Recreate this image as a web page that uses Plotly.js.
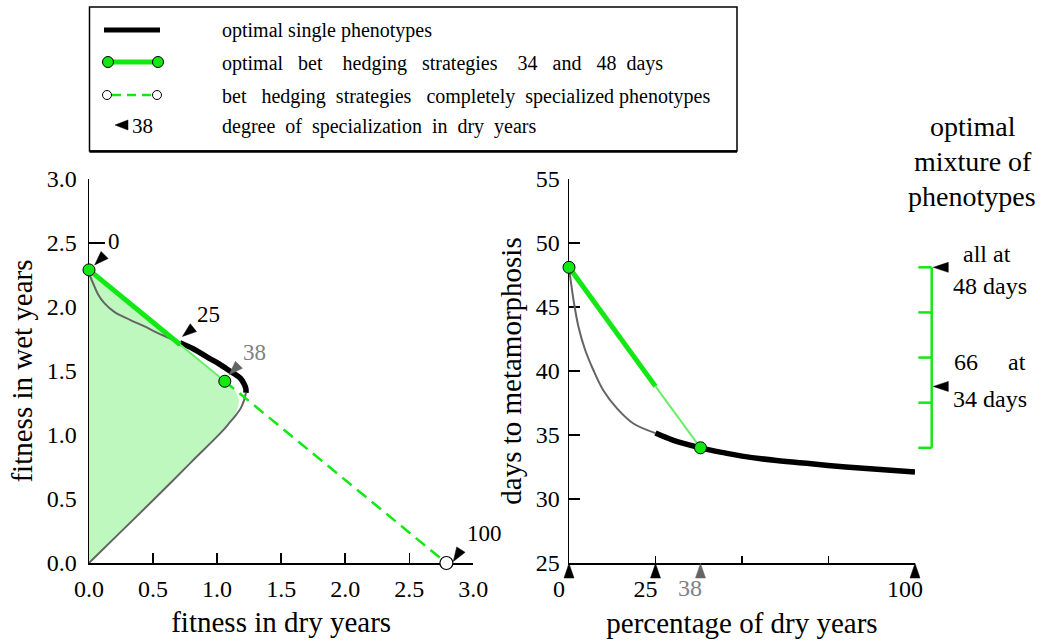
<!DOCTYPE html>
<html><head><meta charset="utf-8">
<script src="https://cdn.plot.ly/plotly-3.0.1.min.js"></script>
<style>body{margin:0;background:#fff}#chart{width:1041px;height:642px}</style>
</head><body><div id="chart"></div>
<script>
// ---------- data: left panel (fitness in dry vs wet years) ----------
const upperGrayDry = [0, 0.01, 0.03, 0.07, 0.12, 0.20, 0.32, 0.43, 0.53, 0.62, 0.71];
const upperGrayWet = [2.29, 2.24, 2.19, 2.10, 2.03, 1.96, 1.90, 1.85, 1.80, 1.76, 1.72];
const singleDry = [0.71, 0.82, 0.92, 1.00, 1.07, 1.13, 1.18, 1.21, 1.225, 1.225];
const singleWet = [1.72, 1.67, 1.61, 1.565, 1.52, 1.48, 1.445, 1.40, 1.36, 1.33];
const lowerGrayDry = [1.225, 1.21, 1.185, 1.15, 1.10, 1.05, 0.80, 0.50, 0.25, 0];
const lowerGrayWet = [1.33, 1.27, 1.21, 1.16, 1.10, 1.04, 0.79, 0.49, 0.245, 0];
const regionDry = [0, 0, 0.71, 1.12, 1.155, 1.17, 1.165, 1.14, 1.09, 1.04, 0];
const regionWet = [0, 2.29, 1.707, 1.371, 1.32, 1.27, 1.22, 1.16, 1.10, 1.035, 0];
const betDry = [0, 0.71, 1.06, 2.79];
const betWet = [2.29, 1.707, 1.42, 0];
const specLabels = ['0', '25', '38', '100'];
const specDry = [0, 0.71, 1.06, 2.79];
const specWet = [2.29, 1.72, 1.42, 0];
const fitTicks = [0, 0.5, 1, 1.5, 2, 2.5, 3];

// ---------- data: right panel (days to metamorphosis) ----------
const grayPct = [0, 0.48, 1.45, 2.7, 4.6, 7.0, 9.9, 13.8, 18.6, 25];
const grayDays = [48.1, 47.1, 45.3, 43.5, 41.7, 40.1, 38.5, 37.1, 35.9, 35.15];
const singlePct = [25, 30, 38, 45, 50, 60, 70, 80, 90, 100];
const singleDays = [35.15, 34.6, 34.0, 33.6, 33.35, 33.0, 32.75, 32.5, 32.3, 32.1];
const betPct = [0, 25, 38];
const betDays = [48.1, 38.8, 34.0];
const pctTicks = [0, 25, 50, 75, 100];
const pctTickText = ['0', '25', '', '', '100'];
const markedPct = [0, 25, 38, 100];
const mixDays = [34.0, 48.1];              // bottom: all at 34 days, top: all at 48 days
const mixFractions = [0, 0.25, 0.5, 0.75, 1];
const mixPointers = [1, 0.34];             // share at 48 days

// ---------- layout geometry ----------
const W = 1041, H = 642, ML = 89, MR = 126, MT = 179, MB = 79;
const PW = W - ML - MR, PH = H - MT - MB;
const px2x = px => (px - ML) / PW;
const py2y = py => (H - MB - py) / PH;
const X1D = [0, px2x(473.3)], X2D = [px2x(569), 1];
const x2ToPaper = v => X2D[0] + (v - 0) / 100 * (X2D[1] - X2D[0]);
const mixAt = f => mixDays[0] + f * (mixDays[1] - mixDays[0]);

const FONT = 'Liberation Serif, Times New Roman, serif';
const GREEN = 'rgb(20,232,20)', LIGHTGREEN = 'rgb(105,238,105)', FILL = 'rgb(190,248,190)';
const GRAY = 'rgb(100,100,100)', LABELGRAY = 'rgb(128,128,128)';
const sp = n => ' ' + '\u00a0'.repeat(n - 1);   // word gap of n spaces

function triPath(tipX, tipY, dirX, dirY, len, hw) { // screen coords (y down)
  const m = Math.hypot(dirX, dirY), ux = dirX / m, uy = dirY / m;
  const bx = tipX - ux * len, by = tipY - uy * len, nx = -uy, ny = ux;
  const pts = [[tipX, tipY], [bx + nx * hw, by + ny * hw], [bx - nx * hw, by - ny * hw]];
  return 'M' + pts.map(p => p[0].toFixed(2) + ',' + (-p[1]).toFixed(2)).join('L') + 'Z';
}

const base = {mode: 'lines', hoverinfo: 'skip', showlegend: false};
const traces = [
  Object.assign({}, base, {x: regionDry, y: regionWet, fill: 'toself', fillcolor: FILL, line: {width: 0}}),
  Object.assign({}, base, {x: upperGrayDry, y: upperGrayWet, line: {color: GRAY, width: 2, shape: 'spline'}}),
  Object.assign({}, base, {x: lowerGrayDry, y: lowerGrayWet, line: {color: GRAY, width: 2, shape: 'spline'}}),
  Object.assign({}, base, {x: singleDry, y: singleWet, line: {color: 'black', width: 5.5, shape: 'spline'}}),
  Object.assign({}, base, {x: betDry.slice(0, 2), y: betWet.slice(0, 2), line: {color: GREEN, width: 5}}),
  Object.assign({}, base, {x: betDry.slice(1, 3), y: betWet.slice(1, 3), line: {color: LIGHTGREEN, width: 2}}),
  Object.assign({}, base, {x: betDry.slice(2, 4), y: betWet.slice(2, 4), line: {color: GREEN, width: 2.5, dash: '12px,7px'}}),
  Object.assign({}, base, {x: [betDry[0], betDry[2]], y: [betWet[0], betWet[2]], mode: 'markers', cliponaxis: false,
    marker: {size: 12, color: GREEN, line: {color: 'black', width: 1}}}),
  Object.assign({}, base, {x: [betDry[3]], y: [betWet[3]], mode: 'markers', cliponaxis: false,
    marker: {size: 13, color: 'white', line: {color: 'black', width: 1.2}}}),
  // right panel
  Object.assign({}, base, {x: grayPct, y: grayDays, xaxis: 'x2', yaxis: 'y2', line: {color: GRAY, width: 2, shape: 'spline'}}),
  Object.assign({}, base, {x: singlePct, y: singleDays, xaxis: 'x2', yaxis: 'y2', line: {color: 'black', width: 5.5, shape: 'spline'}}),
  Object.assign({}, base, {x: betPct.slice(0, 2), y: betDays.slice(0, 2), xaxis: 'x2', yaxis: 'y2', line: {color: GREEN, width: 5}}),
  Object.assign({}, base, {x: betPct.slice(1, 3), y: betDays.slice(1, 3), xaxis: 'x2', yaxis: 'y2', line: {color: LIGHTGREEN, width: 2}}),
  Object.assign({}, base, {x: [betPct[0], betPct[2]], y: [betDays[0], betDays[2]], xaxis: 'x2', yaxis: 'y2', mode: 'markers', cliponaxis: false,
    marker: {size: 12, color: GREEN, line: {color: 'black', width: 1}}})
];

const shapes = [];
const annotations = [];

// arrowheads marking degree of specialization (left panel)
const triSpec = [
  {tip: [5.7, -5], dir: [-10, 10]},
  {tip: [2.5, -6.4], dir: [-11.5, 9.2]},
  {tip: [4.3, -6.5], dir: [-9.9, 10]},
  {tip: [6.9, -1.6], dir: [-8.4, 13]}
];
const labelShift = [[25, 28], [29, 28], [30, 28.5], [38, 30]];
specLabels.forEach((lab, i) => {
  const col = lab === '38' ? GRAY : 'black';
  const t = triSpec[i];
  shapes.push({type: 'path', xref: 'x', yref: 'y', xsizemode: 'pixel', ysizemode: 'pixel',
    xanchor: specDry[i], yanchor: specWet[i], path: triPath(t.tip[0], t.tip[1], t.dir[0], t.dir[1], 14, 5),
    fillcolor: col, line: {color: col, width: 0.5}, layer: 'above'});
  annotations.push({xref: 'x', yref: 'y', x: specDry[i], y: specWet[i], xshift: labelShift[i][0], yshift: labelShift[i][1],
    text: lab, showarrow: false, xanchor: 'center', yanchor: 'middle',
    font: {family: FONT, size: 23, color: lab === '38' ? LABELGRAY : 'black'}});
});

// arrowheads under the right x axis
markedPct.forEach(v => {
  const col = v === 38 ? GRAY : 'black';
  shapes.push({type: 'path', xref: 'paper', yref: 'paper', xsizemode: 'pixel', ysizemode: 'pixel',
    xanchor: x2ToPaper(v), yanchor: 0, path: triPath(0, 0.5, 0, -1, 14.5, 5),
    fillcolor: col, line: {color: col, width: 0.5}, layer: 'above'});
});
annotations.push({xref: 'x2', yref: 'paper', x: 38, y: 0, xshift: -10, yshift: -10, text: '38', showarrow: false,
  xanchor: 'center', yanchor: 'top', font: {family: FONT, size: 24, color: LABELGRAY}});

// optimal mixture indicator
const barX = px2x(931.7), tickX0 = px2x(918.3);
shapes.push({type: 'line', xref: 'paper', yref: 'y2', x0: barX, x1: barX, y0: mixAt(0), y1: mixAt(1), line: {color: GREEN, width: 2.5}});
mixFractions.forEach(f => shapes.push({type: 'line', xref: 'paper', yref: 'y2', x0: tickX0, x1: barX, y0: mixAt(f), y1: mixAt(f),
  line: {color: GREEN, width: 2.5}}));
mixPointers.forEach(f => shapes.push({type: 'path', xref: 'paper', yref: 'y2', xsizemode: 'pixel', ysizemode: 'pixel',
  xanchor: barX, yanchor: mixAt(f), path: triPath(1.6, 0, -1, 0, 15, 5), fillcolor: 'black', line: {color: 'black', width: 0.5}}));

const sideText = [
  ['optimal', 973, 127, 28], ['mixture of', 973, 161, 28], ['phenotypes', 972, 196, 28],
  ['all at', 987, 254, 24], ['48 days', 990, 286, 24],
  ['66' + sp(5) + 'at', 990, 362, 24], ['34 days', 990, 399, 24]
];
sideText.forEach(s => annotations.push({xref: 'paper', yref: 'paper', x: px2x(s[1]), y: py2y(s[2]), text: s[0],
  showarrow: false, xanchor: 'center', yanchor: 'middle', font: {family: FONT, size: s[3], color: 'black'}}));

// legend box
shapes.push({type: 'rect', xref: 'paper', yref: 'paper', x0: px2x(89.5), x1: px2x(737), y0: py2y(7), y1: py2y(151),
  line: {color: 'black', width: 1.5}, fillcolor: 'rgba(0,0,0,0)'});
shapes.push({type: 'line', xref: 'paper', yref: 'paper', x0: px2x(89.5), x1: px2x(737), y0: py2y(151.5), y1: py2y(151.5),
  line: {color: 'black', width: 2.5}});
const rowY = [30, 62, 95, 125];
const legendText = [
  'optimal single phenotypes',
  'optimal' + sp(3) + 'bet' + sp(4) + 'hedging' + sp(3) + 'strategies' + sp(4) + '34' + sp(3) + 'and' + sp(3) + '48' + sp(2) + 'days',
  'bet' + sp(3) + 'hedging' + sp(2) + 'strategies' + sp(3) + 'completely' + sp(2) + 'specialized phenotypes',
  'degree' + sp(2) + 'of' + sp(2) + 'specialization' + sp(2) + 'in' + sp(2) + 'dry' + sp(2) + 'years'];
shapes.push({type: 'line', xref: 'paper', yref: 'paper', x0: px2x(104), x1: px2x(160), y0: py2y(rowY[0]), y1: py2y(rowY[0]),
  line: {color: 'black', width: 5}});
shapes.push({type: 'line', xref: 'paper', yref: 'paper', x0: px2x(108), x1: px2x(158), y0: py2y(rowY[1]), y1: py2y(rowY[1]),
  line: {color: GREEN, width: 5}});
shapes.push({type: 'line', xref: 'paper', yref: 'paper', x0: px2x(112), x1: px2x(152), y0: py2y(rowY[2]), y1: py2y(rowY[2]),
  line: {color: GREEN, width: 2.5, dash: '9px,6px'}});
function circ(px, py, r, fill) {
  shapes.push({type: 'circle', xref: 'paper', yref: 'paper', xsizemode: 'pixel', ysizemode: 'pixel',
    xanchor: px2x(px), yanchor: py2y(py), x0: -r, x1: r, y0: -r, y1: r, fillcolor: fill, line: {color: 'black', width: 1}});
}
circ(108, rowY[1], 5.5, GREEN); circ(158, rowY[1], 5.5, GREEN);
circ(107, rowY[2], 4.5, 'white'); circ(157, rowY[2], 4.5, 'white');
shapes.push({type: 'path', xref: 'paper', yref: 'paper', xsizemode: 'pixel', ysizemode: 'pixel',
  xanchor: px2x(115), yanchor: py2y(rowY[3]), path: triPath(0, 0, -1, 0, 13, 5), fillcolor: 'black', line: {color: 'black', width: 0.5}});
annotations.push({xref: 'paper', yref: 'paper', x: px2x(130), y: py2y(rowY[3] + 1), text: specLabels[2], showarrow: false,
  xanchor: 'left', yanchor: 'middle', font: {family: FONT, size: 21, color: 'black'}});
legendText.forEach((t, i) => annotations.push({xref: 'paper', yref: 'paper', x: px2x(220), y: py2y(rowY[i] + 1), text: t,
  showarrow: false, xanchor: 'left', yanchor: 'middle', font: {family: FONT, size: 20, color: 'black'}}));

const axCommon = {showline: true, linecolor: 'black', linewidth: 1.5, ticks: 'inside', tickwidth: 1.5, tickcolor: 'black',
  showgrid: false, zeroline: false, layer: 'below traces', fixedrange: true,
  tickfont: {family: FONT, size: 24, color: 'black'}};
const layout = {
  width: W, height: H, margin: {l: ML, r: MR, t: MT, b: MB, pad: 0},
  paper_bgcolor: 'white', plot_bgcolor: 'white', showlegend: false,
  font: {family: FONT, size: 24, color: 'black'},
  xaxis: Object.assign({}, axCommon, {domain: X1D, range: [0, 3], anchor: 'y', tickvals: fitTicks, tickformat: '.1f',
    ticklen: 10, ticklabelstandoff: 4,
    title: {text: 'fitness in dry years', font: {family: FONT, size: 29}, standoff: 10}}),
  yaxis: Object.assign({}, axCommon, {domain: [0, 1], range: [0, 3], anchor: 'x', tickvals: fitTicks, tickformat: '.1f',
    ticklen: 16, ticklabelstandoff: 6,
    title: {text: 'fitness in wet years', font: {family: FONT, size: 29}, standoff: 5}}),
  xaxis2: Object.assign({}, axCommon, {domain: X2D, range: [0, 100], anchor: 'y2', tickvals: pctTicks, ticktext: pctTickText,
    ticklen: 7, ticklabelstandoff: 4, ticklabelshift: -10,
    title: {text: 'percentage of dry years', font: {family: FONT, size: 29}, standoff: 11}}),
  yaxis2: Object.assign({}, axCommon, {domain: [0, 1], range: [25, 55], anchor: 'x2', tick0: 25, dtick: 5,
    ticklen: 11, ticklabelstandoff: 3,
    title: {text: 'days to metamorphosis', font: {family: FONT, size: 29}, standoff: 5}}),
  shapes: shapes, annotations: annotations
};
Plotly.newPlot('chart', traces, layout, {staticPlot: true, displayModeBar: false});
</script></body></html>
